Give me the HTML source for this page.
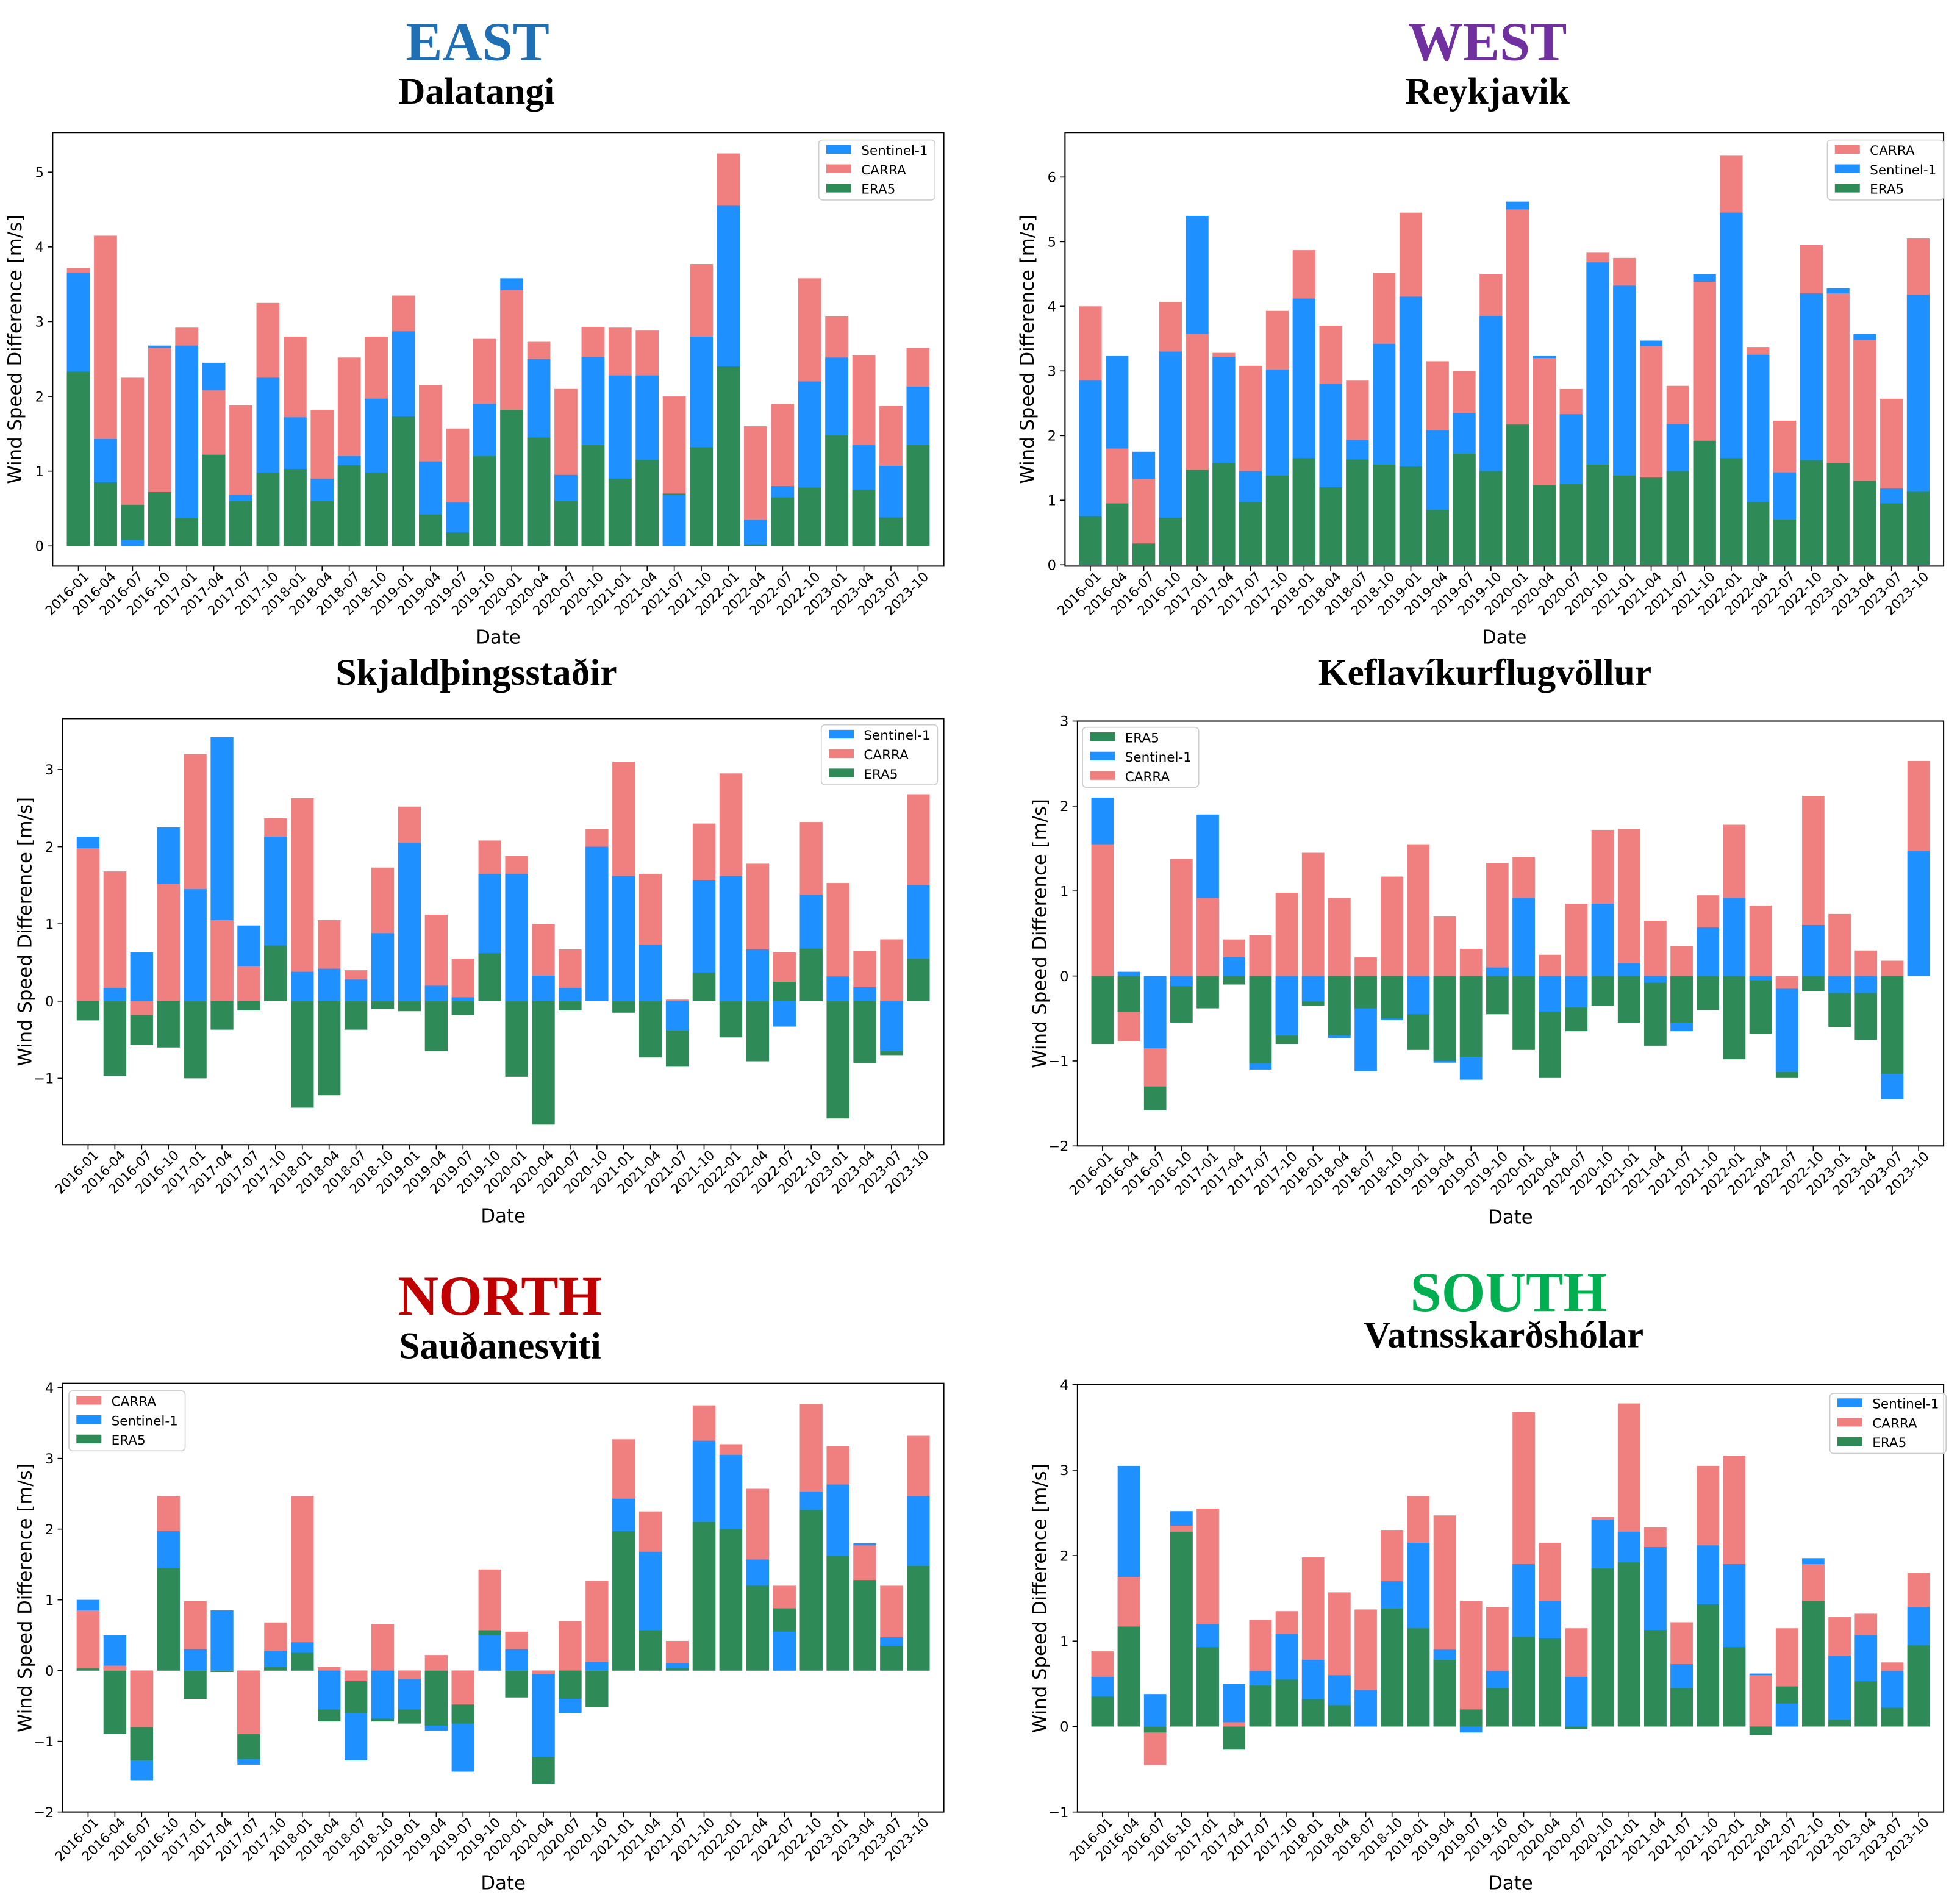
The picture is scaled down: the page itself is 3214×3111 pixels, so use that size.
<!DOCTYPE html>
<html><head><meta charset="utf-8"><title>Wind speed differences</title>
<style>
html,body{margin:0;padding:0;background:#fff;}
svg{display:block;}
</style></head>
<body>
<svg id="fig" xmlns="http://www.w3.org/2000/svg" width="3214" height="3111" viewBox="0 0 1568 1518">
<rect x="0" y="0" width="1568" height="1518" fill="#fff"/>
<g font-family="'Liberation Serif', serif" font-weight="bold" text-anchor="middle">
<text x="382" y="48" font-size="44" fill="#1f6fb4">EAST</text>
<text x="381" y="83" font-size="30" fill="#000">Dalatangi</text>
<text x="1190" y="48" font-size="44" fill="#7030a0">WEST</text>
<text x="1190" y="83" font-size="30" fill="#000">Reykjavik</text>
<text x="381" y="548" font-size="30" fill="#000">Skjaldþingsstaðir</text>
<text x="1188" y="548" font-size="30" fill="#000">Keflavíkurflugvöllur</text>
<text x="400" y="1052" font-size="45" fill="#c00000">NORTH</text>
<text x="400" y="1087" font-size="30" fill="#000">Sauðanesviti</text>
<text x="1207" y="1049" font-size="45" fill="#00b050">SOUTH</text>
<text x="1203" y="1078" font-size="30" fill="#000">Vatnsskarðshólar</text>
</g>
</svg>
<script>
const categories = ["2016-01","2016-04","2016-07","2016-10","2017-01","2017-04","2017-07","2017-10","2018-01","2018-04","2018-07","2018-10","2019-01","2019-04","2019-07","2019-10","2020-01","2020-04","2020-07","2020-10","2021-01","2021-04","2021-07","2021-10","2022-01","2022-04","2022-07","2022-10","2023-01","2023-04","2023-07","2023-10"];

const eastS1 = [3.65,1.43,0.08,2.68,2.68,2.45,0.68,2.25,1.72,0.9,1.2,1.97,2.87,1.13,0.58,1.9,3.58,2.5,0.95,2.53,2.28,2.28,0.68,2.8,4.55,0.35,0.8,2.2,2.52,1.35,1.07,2.13];
const eastCarra = [3.72,4.15,2.25,2.65,2.92,2.08,1.88,3.25,2.8,1.82,2.52,2.8,3.35,2.15,1.57,2.77,3.42,2.73,2.1,2.93,2.92,2.88,2.0,3.77,5.25,1.6,1.9,3.58,3.07,2.55,1.87,2.65];
const eastEra5 = [2.33,0.85,0.55,0.72,0.37,1.22,0.6,0.98,1.03,0.6,1.08,0.98,1.73,0.42,0.18,1.2,1.82,1.45,0.6,1.35,0.9,1.15,0.7,1.32,2.4,0.02,0.65,0.78,1.48,0.75,0.38,1.35];

const westS1 = [2.85,3.23,1.75,3.3,5.4,3.22,1.45,3.02,4.12,2.8,1.93,3.42,4.15,2.08,2.35,3.85,5.62,3.23,2.33,4.68,4.32,3.47,2.18,4.5,5.45,3.25,1.43,4.2,4.28,3.57,1.18,4.18];
const westCarra = [4.0,1.8,1.33,4.07,3.57,3.28,3.08,3.93,4.87,3.7,2.85,4.52,5.45,3.15,3.0,4.5,5.5,3.2,2.72,4.83,4.75,3.38,2.77,4.38,6.33,3.37,2.23,4.95,4.2,3.48,2.57,5.05];
const westEra5 = [0.75,0.95,0.33,0.73,1.47,1.57,0.97,1.38,1.65,1.2,1.63,1.55,1.52,0.85,1.72,1.45,2.17,1.23,1.25,1.55,1.38,1.35,1.45,1.92,1.65,0.97,0.7,1.62,1.57,1.3,0.95,1.13];

const skjS1 = [2.13,0.17,0.63,2.25,1.45,3.42,0.98,2.13,0.38,0.42,0.28,0.88,2.05,0.2,0.05,1.65,1.65,0.33,0.17,2.0,1.62,0.73,-0.38,1.57,1.62,0.67,-0.33,1.38,0.32,0.18,-0.65,1.5];
const skjCarra = [1.98,1.68,-0.18,1.52,3.2,1.05,0.45,2.37,2.63,1.05,0.4,1.73,2.52,1.12,0.55,2.08,1.88,1.0,0.67,2.23,3.1,1.65,0.02,2.3,2.95,1.78,0.63,2.32,1.53,0.65,0.8,2.68];
const skjEra5 = [-0.25,-0.97,-0.57,-0.6,-1.0,-0.37,-0.12,0.72,-1.38,-1.22,-0.37,-0.1,-0.13,-0.65,-0.18,0.62,-0.98,-1.6,-0.12,0.0,-0.15,-0.73,-0.85,0.37,-0.47,-0.78,0.25,0.68,-1.52,-0.8,-0.7,0.55];

const kefS1 = [2.1,0.05,-0.85,-0.12,1.9,0.22,-1.1,-0.7,-0.3,-0.73,-1.12,-0.52,-0.45,-1.02,-1.22,0.1,0.92,-0.42,-0.37,0.85,0.15,-0.08,-0.65,0.57,0.92,-0.05,-1.13,0.6,-0.2,-0.2,-1.45,1.47];
const kefCarra = [1.55,-0.77,-1.3,1.38,0.92,0.43,0.48,0.98,1.45,0.92,0.22,1.17,1.55,0.7,0.32,1.33,1.4,0.25,0.85,1.72,1.73,0.65,0.35,0.95,1.78,0.83,-0.15,2.12,0.73,0.3,0.18,2.53];
const kefEra5 = [-0.8,-0.42,-1.58,-0.55,-0.38,-0.1,-1.03,-0.8,-0.35,-0.7,-0.38,-0.5,-0.87,-1.0,-0.95,-0.45,-0.87,-1.2,-0.65,-0.35,-0.55,-0.82,-0.55,-0.4,-0.98,-0.68,-1.2,-0.18,-0.6,-0.75,-1.15,0.0];

const northS1 = [1.0,0.5,-1.55,1.97,0.3,0.85,-1.33,0.28,0.4,-0.55,-1.27,-0.68,-0.55,-0.85,-1.43,0.5,0.3,-1.22,-0.6,0.12,2.43,1.68,0.1,3.25,3.05,1.57,0.55,2.53,2.63,1.8,0.47,2.47];
const northCarra = [0.85,0.07,-0.8,2.47,0.98,0.0,-0.9,0.68,2.47,0.05,-0.15,0.66,-0.12,0.22,-0.48,1.43,0.55,-0.05,0.7,1.27,3.27,2.25,0.42,3.75,3.2,2.57,1.2,3.77,3.17,1.77,1.2,3.32];
const northEra5 = [0.03,-0.9,-1.27,1.45,-0.4,-0.02,-1.25,0.05,0.25,-0.72,-0.6,-0.72,-0.75,-0.78,-0.75,0.57,-0.38,-1.6,-0.4,-0.52,1.97,0.57,0.03,2.1,2.0,1.2,0.88,2.27,1.62,1.28,0.35,1.48];

const southS1 = [0.58,3.05,0.38,2.52,1.2,0.5,0.65,1.08,0.78,0.6,0.43,1.7,2.15,0.9,-0.07,0.65,1.9,1.47,0.58,2.42,2.28,2.1,0.73,2.12,1.9,0.62,0.27,1.97,0.83,1.07,0.65,1.4];
const southCarra = [0.88,1.75,-0.45,2.35,2.55,0.05,1.25,1.35,1.98,1.57,1.37,2.3,2.7,2.47,1.47,1.4,3.68,2.15,1.15,2.45,3.78,2.33,1.22,3.05,3.17,0.6,1.15,1.9,1.28,1.32,0.75,1.8];
const southEra5 = [0.35,1.17,-0.07,2.28,0.93,-0.27,0.48,0.55,0.32,0.25,0.0,1.38,1.15,0.78,0.2,0.45,1.05,1.03,-0.03,1.85,1.92,1.13,0.45,1.43,0.93,-0.1,0.47,1.47,0.08,0.53,0.22,0.95];

const yTicksEast = [0,1,2,3,4,5];
const yTicksWest = [0,1,2,3,4,5,6];
const yTicksSkj = [-1,0,1,2,3];
const yTicksKef = [-2,-1,0,1,2,3];
const yTicksNorth = [-2,-1,0,1,2,3,4];
const yTicksSouth = [-1,0,1,2,3,4];

const COL = {"Sentinel-1":"#1e90ff","CARRA":"#f08080","ERA5":"#2e8b57"};
const NS = "http://www.w3.org/2000/svg";
const svg = document.getElementById("fig");

function mk(tag, attrs, parent){
  const e = document.createElementNS(NS, tag);
  for (const k in attrs) e.setAttribute(k, attrs[k]);
  (parent||svg).appendChild(e);
  return e;
}

const panels = [
 {key:"east", x0:42,x1:755,y0:106,y1:453,ymin:-0.27,ymax:5.53,ticks:yTicksEast,
  series:{"Sentinel-1":eastS1,"CARRA":eastCarra,"ERA5":eastEra5}, legend:["Sentinel-1","CARRA","ERA5"], lx:655, ly:112},
 {key:"west", x0:852,x1:1555,y0:106,y1:453,ymin:-0.02,ymax:6.69,ticks:yTicksWest,
  series:{"Sentinel-1":westS1,"CARRA":westCarra,"ERA5":westEra5}, legend:["CARRA","Sentinel-1","ERA5"], lx:1462, ly:112},
 {key:"skjaldthingsstadir", x0:50,x1:755,y0:575,y1:916,ymin:-1.86,ymax:3.66,ticks:yTicksSkj,
  series:{"Sentinel-1":skjS1,"CARRA":skjCarra,"ERA5":skjEra5}, legend:["Sentinel-1","CARRA","ERA5"], lx:657, ly:580},
 {key:"keflavik", x0:862,x1:1555,y0:577,y1:917,ymin:-2,ymax:3,ticks:yTicksKef,
  series:{"Sentinel-1":kefS1,"CARRA":kefCarra,"ERA5":kefEra5}, legend:["ERA5","Sentinel-1","CARRA"], lx:866, ly:582},
 {key:"north", x0:50,x1:755,y0:1107,y1:1450,ymin:-2.0,ymax:4.06,ticks:yTicksNorth,
  series:{"Sentinel-1":northS1,"CARRA":northCarra,"ERA5":northEra5}, legend:["CARRA","Sentinel-1","ERA5"], lx:55, ly:1113},
 {key:"south", x0:862,x1:1555,y0:1108,y1:1450,ymin:-1.0,ymax:4.0,ticks:yTicksSouth,
  series:{"Sentinel-1":southS1,"CARRA":southCarra,"ERA5":southEra5}, legend:["Sentinel-1","CARRA","ERA5"], lx:1464, ly:1115}
];

panels.forEach(p => {
  const g = mk("g", {});
  
  
  const n = categories.length;
  const xmin = -0.95, xmax = n - 1 + 0.95;
  const xs = i => p.x0 + (i - xmin) / (xmax - xmin) * (p.x1 - p.x0);
  const ys = v => p.y1 - (v - p.ymin) / (p.ymax - p.ymin) * (p.y1 - p.y0);
  const bw = 0.85 * (p.x1 - p.x0) / (xmax - xmin);
  for (let i = 0; i < n; i++) {
    const items = Object.keys(p.series).map(name => ({name, v: p.series[name][i]}));
    items.sort((a,b) => Math.abs(b.v) - Math.abs(a.v));
    items.forEach(it => {
      const ya = ys(Math.max(0, it.v)), yb = ys(Math.min(0, it.v));
      const r = mk("rect", {x: xs(i) - bw/2, y: ya, width: bw, height: Math.max(0, yb - ya), fill: COL[it.name]}, g);
      
      
    });
  }
  const fr = mk("rect", {x:p.x0, y:p.y0, width:p.x1-p.x0, height:p.y1-p.y0, fill:"none", stroke:"#000", "stroke-width":1}, g);
  
  
  p.ticks.forEach(t => {
    const y = ys(t);
    mk("line", {x1:p.x0-4, x2:p.x0, y1:y, y2:y, stroke:"#000", "stroke-width":0.8}, g);
    const tx = mk("text", {x:p.x0-7, y:y+4, "font-size":11, "text-anchor":"end", "font-family":"'DejaVu Sans', sans-serif"}, g);
    tx.textContent = t < 0 ? "\u2212" + Math.abs(t) : String(t);
    
    
  });
  categories.forEach((c, i) => {
    const x = xs(i);
    mk("line", {x1:x, x2:x, y1:p.y1, y2:p.y1+4, stroke:"#000", "stroke-width":0.8}, g);
    const ax = x + 9, ay = p.y1 + 9;
    const tx = mk("text", {x:ax, y:ay, "font-size":10.5, "text-anchor":"end", "font-family":"'DejaVu Sans', sans-serif", transform:`rotate(-45 ${ax} ${ay})`}, g);
    tx.textContent = c;
    
    
  });
  const xl = mk("text", {x:(p.x0+p.x1)/2, y:p.y1+62, "font-size":15, "text-anchor":"middle", "font-family":"'DejaVu Sans', sans-serif"}, g);
  xl.textContent = "Date";
  
  
  const yx = p.x0 - 25, yy = (p.y0+p.y1)/2;
  const yl = mk("text", {x:yx, y:yy, "font-size":15, "text-anchor":"middle", "font-family":"'DejaVu Sans', sans-serif", transform:`rotate(-90 ${yx} ${yy})`}, g);
  yl.textContent = "Wind Speed Difference [m/s]";
  
  
  const lg = mk("g", {}, g);
  
  
  mk("rect", {x:p.lx, y:p.ly, width:93, height:48, rx:3, fill:"#fff", "fill-opacity":0.85, stroke:"#ccc", "stroke-width":0.8}, lg);
  p.legend.forEach((name, k) => {
    const cy = p.ly + 8 + k*15.5;
    const sw = mk("rect", {x:p.lx+6, y:cy-4, width:20, height:7, fill:COL[name]}, lg);
    
    
    const lt = mk("text", {x:p.lx+34, y:cy+4, "font-size":10.5, "font-family":"'DejaVu Sans', sans-serif"}, lg);
    lt.textContent = name;
    
    
  });
});
</script>
</body></html>
